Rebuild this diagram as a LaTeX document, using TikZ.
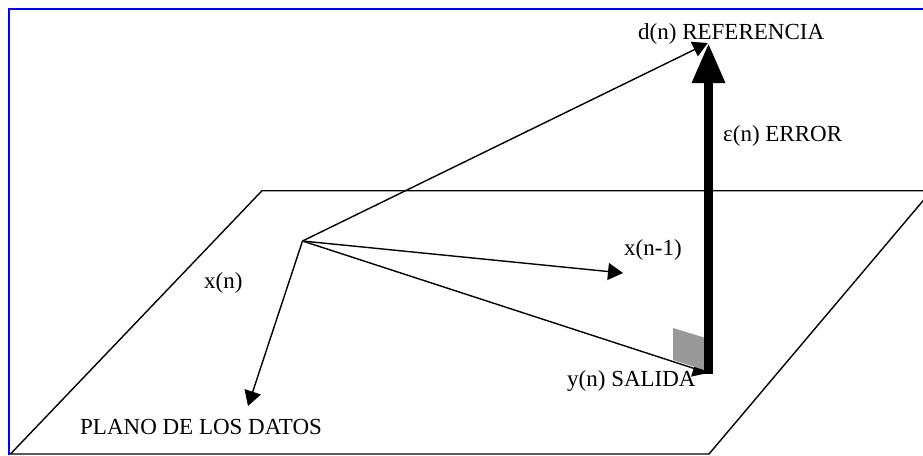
\documentclass[tikz,border=0pt]{standalone}
\usepackage{fontspec}
\setmainfont{Liberation Serif}
\usetikzlibrary{arrows.meta}
\tikzset{
  lbl/.style={inner sep=0pt,anchor=base west,font=\fontsize{23}{25}\selectfont},
  thin line/.style={draw=black,line width=1.4pt},
  vec/.style={thin line,-{Triangle[length=15pt,width=17pt]}},
  bold vec/.style={draw=black,line width=9pt,-{Triangle[length=40pt,width=31pt]}}
}
\begin{document}
\begin{tikzpicture}[x=1pt,y=-1pt]
\useasboundingbox (0,0) rectangle (923,455);
\fill[white] (0,0) rectangle (923,455);
\clip (0,0) rectangle (923,455);
\coordinate (f1) at (9,455); \coordinate (f2) at (9,9); \coordinate (f3) at (923,9);
\draw[blue,line width=2pt] (f1) -- (f2) -- (f3);
\coordinate (p1) at (262,190.7); \coordinate (p2) at (931.5,190.7);
\coordinate (p3) at (709,454); \coordinate (p4) at (10.5,454);
\draw[thin line] (p1) -- (p2) -- (p3) -- (p4) -- cycle;
\coordinate (o) at (302.5,241);
\coordinate (d) at (708,43);
\coordinate (dtip) at (708.5,43);
\coordinate (y) at (708,373);
\coordinate (yb) at (708.5,373.5);
\coordinate (xn) at (248,406);
\coordinate (xn1) at (623,273);
\draw[vec] (o) -- (d);
\draw[vec] (o) -- (xn1);
\draw[vec] (o) -- (xn);
\draw[vec] (o) -- (y);
\fill[gray!80] (673,328) -- (704,337.5) -- (704,370) -- (673,360) -- cycle;
\draw[bold vec] (yb) -- (dtip);
\coordinate (s1) at (709,42.5); \coordinate (s2) at (696,60);
\draw[white,line width=1pt] (s1) -- (s2);
\node[lbl] (t1) at (638,39) {d(n) REFERENCIA};
\node[lbl] (t2) at (723,141) {ε(n) ERROR};
\node[lbl] (t3) at (624,255) {x(n-1)};
\node[lbl] (t4) at (204,288) {x(n)};
\node[lbl] (t5) at (567,386) {y(n) SALIDA};
\node[lbl] (t6) at (80,434) {PLANO DE LOS DATOS};
\end{tikzpicture}
\end{document}
